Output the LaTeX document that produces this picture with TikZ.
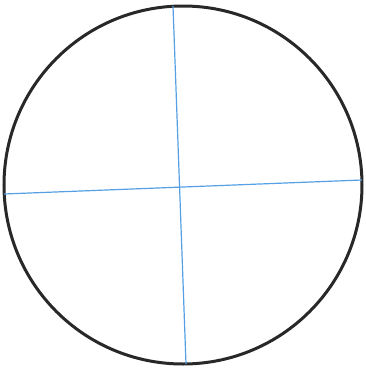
\documentclass[tikz,border=0pt]{standalone}
\usepackage{tikz}

\begin{document}
\begin{tikzpicture}[x=1pt, y=-1pt]
    % Define styles
    \tikzstyle{rim} = [draw={rgb,255:red,40;green,40;blue,40}, line width=3pt]
    \tikzstyle{axis} = [draw={rgb,255:red,85;green,160;blue,228}, line width=1.2pt]

    \useasboundingbox (0,0) rectangle (365,370);

    % Circle
    \draw [rim] (183,185) circle (179);

    % Ends of the two diameters
    \coordinate (top) at (173,6);
    \coordinate (bottom) at (186,364);
    \coordinate (left) at (4,194);
    \coordinate (right) at (362,180);

    % Lines
    \draw [axis] (top) -- (bottom);
    \draw [axis] (left) -- (right);
\end{tikzpicture}
\end{document}
